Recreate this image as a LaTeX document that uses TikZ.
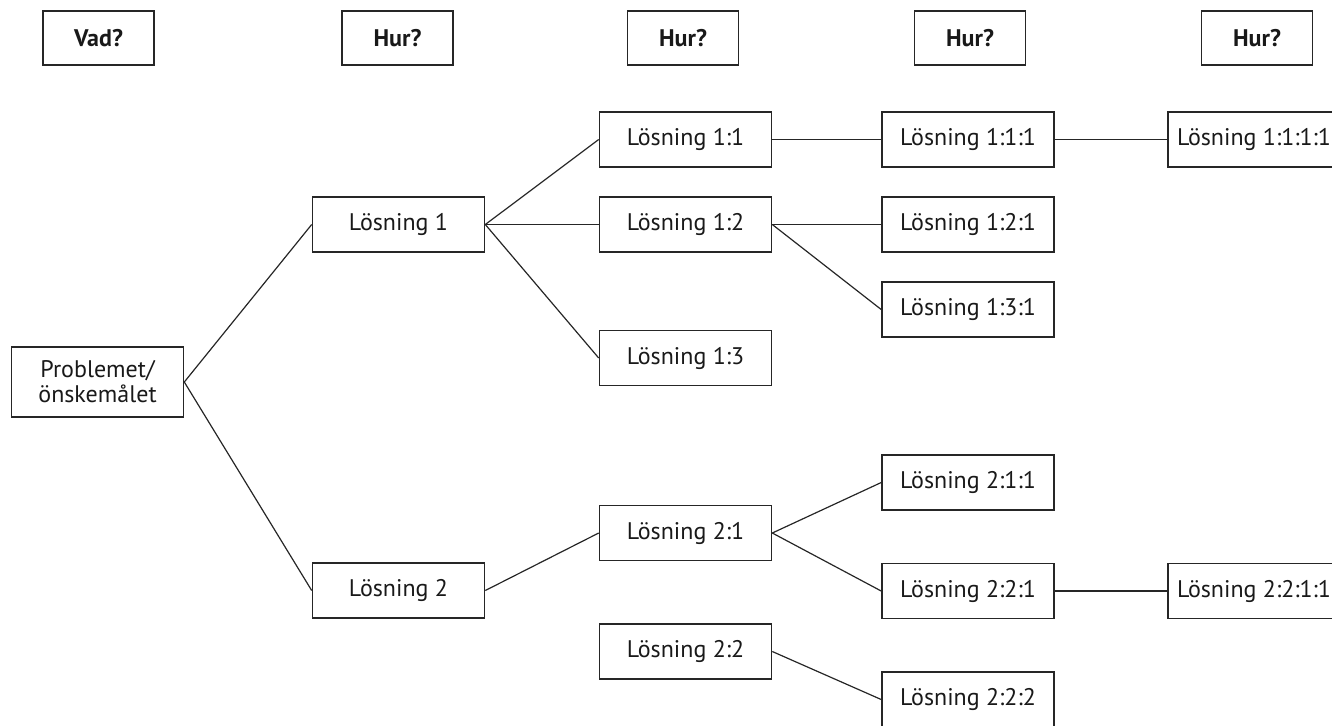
\documentclass[tikz,border=0pt]{standalone}
\usepackage{fontspec}
\setmainfont{PT Sans}
\tikzstyle{headBox}=[shape = rectangle, draw = black!85, line width = 0.8pt, minimum width = 55.5pt, minimum height = 27pt, inner sep = 0pt, font = \fontsize{12}{14}\selectfont\bfseries, text = black!90]
\tikzstyle{solBox}=[shape = rectangle, draw = black!85, line width = 0.8pt, minimum width = 86pt, minimum height = 27.5pt, inner sep = 0pt, font = \fontsize{12}{14}\selectfont, text = black!90]
\tikzstyle{link}=[draw = black!85, line width = 0.6pt]

\begin{document}
\begin{tikzpicture}[x = 0.5pt, y = -0.5pt]
\useasboundingbox (0,0) rectangle (1332,725);
\tikzstyle{rootBox}=[solBox, minimum height = 35pt, align = center, font = \fontsize{12}{12.5}\selectfont]
% questions on top
\node[headBox] (h1) at (98.5,38) {Vad?};
\node[headBox] (h2) at (397.5,38) {Hur?};
\node[headBox] (h3) at (683,38) {Hur?};
\node[headBox] (h4) at (970,38) {Hur?};
\node[headBox] (h5) at (1257,38) {Hur?};
% the tree
\node[rootBox] (v0) at (97.5,382) {Problemet/\\önskemålet};
\node[solBox] (v1) at (398.5,224.5) {Lösning 1};
\node[solBox] (v2) at (398.5,590.5) {Lösning 2};
\node[solBox] (v11) at (685.5,139.5) {Lösning 1:1};
\node[solBox] (v12) at (685.5,224.5) {Lösning 1:2};
\node[solBox] (v13) at (685.5,358) {Lösning 1:3};
\node[solBox] (v21) at (685.5,533) {Lösning 2:1};
\node[solBox] (v22) at (685.5,651.5) {Lösning 2:2};
\node[solBox] (v111) at (968,139.5) {Lösning 1:1:1};
\node[solBox] (v121) at (968,224.5) {Lösning 1:2:1};
\node[solBox] (v131) at (968,309.5) {Lösning 1:3:1};
\node[solBox] (v211) at (968,482.5) {Lösning 2:1:1};
\node[solBox] (v221) at (968,591) {Lösning 2:2:1};
\node[solBox] (v222) at (968,699.5) {Lösning 2:2:2};
\node[solBox] (v1111) at (1254,139.5) {Lösning 1:1:1:1};
\node[solBox] (v2211) at (1254,591) {Lösning 2:2:1:1};
\draw[link] (v0.east) -- (v1.west);
\draw[link] (v0.east) -- (v2.west);
\draw[link] (v1.east) -- (v11.west);
\draw[link] (v1.east) -- (v12.west);
\draw[link] (v1.east) -- (v13.west);
\draw[link] (v2.east) -- (v21.west);
\draw[link] (v11.east) -- (v111.west);
\draw[link] (v12.east) -- (v121.west);
\draw[link] (v12.east) -- (v131.west);
\draw[link] (v21.east) -- (v211.west);
\draw[link] (v21.east) -- (v221.west);
\draw[link] (v22.east) -- (v222.west);
\draw[link] (v111.east) -- (v1111.west);
\draw[link] (v221.east) -- (v2211.west);
\end{tikzpicture}
\end{document}
